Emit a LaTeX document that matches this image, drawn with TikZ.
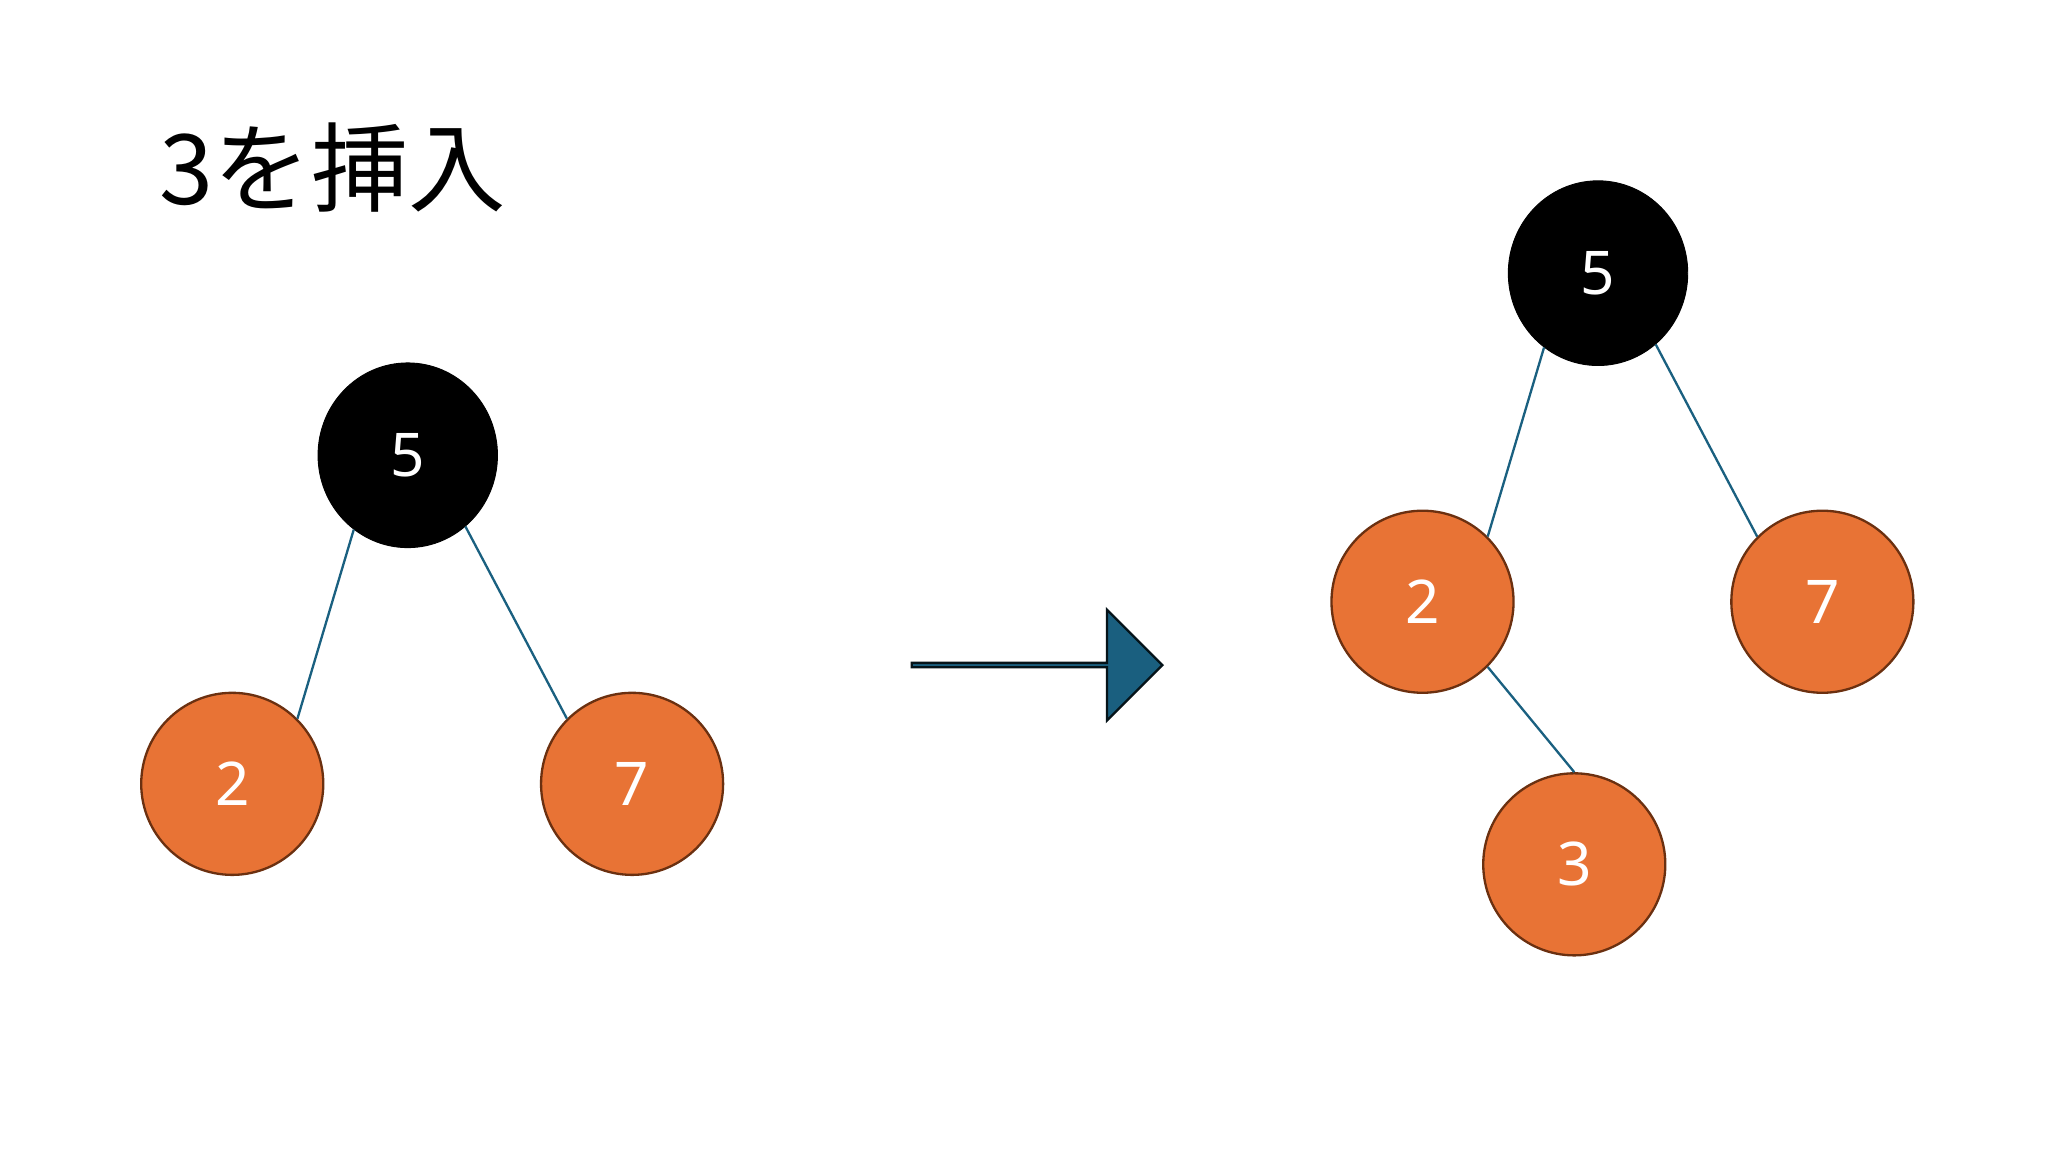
\documentclass[tikz,border=0pt]{standalone}
\usepackage{fontspec}
\setmainfont{Noto Sans}
\newfontfamily\cjk{Noto Sans CJK JP}
\usetikzlibrary{shapes.geometric,shapes.arrows}
\definecolor{org}{HTML}{E87335}
\definecolor{orgb}{HTML}{6B3010}
\definecolor{edge}{HTML}{1A6080}
\definecolor{arr}{HTML}{1A5F7F}
\begin{document}
\begin{tikzpicture}[x=0.02cm,y=-0.02cm,
  blk/.style={ellipse,fill=black,draw=black,minimum width=2.72cm,minimum height=2.8cm,text=white,font=\fontsize{26}{30}\selectfont,inner sep=0pt},
  red/.style={ellipse,fill=org,draw=orgb,line width=1pt,minimum width=2.76cm,minimum height=2.76cm,text=white,font=\fontsize{26}{30}\selectfont,inner sep=0pt},
  ed/.style={draw=edge,line width=1pt}]
\useasboundingbox (0,0) rectangle (1552,873);
\node[anchor=west,font=\cjk\fontsize{42}{46}\selectfont] (t) at (115,127) {3を挿入};
\node[blk] (a5) at (309,345) {5};
\node[red] (a2) at (176,594) {2};
\node[red] (a7) at (479,594) {7};
\draw[ed] (a5.234) -- (a2.45);
\draw[ed] (a5.309) -- (a7.135);
\node[single arrow,fill=arr,draw=black!80!arr,line width=1pt,minimum height=3.8cm,minimum width=1.68cm,single arrow head extend=0.42cm,inner sep=0pt,anchor=west] (ar) at (690,504) {};
\node[blk] (b5) at (1211,207) {5};
\node[red] (b2) at (1078,456) {2};
\node[red] (b7) at (1381,456) {7};
\node[red] (b3) at (1193,655) {3};
\draw[ed] (b5.234) -- (b2.45);
\draw[ed] (b5.309) -- (b7.135);
\draw[ed] (b2.315) -- (b3.90);
\end{tikzpicture}
\end{document}
